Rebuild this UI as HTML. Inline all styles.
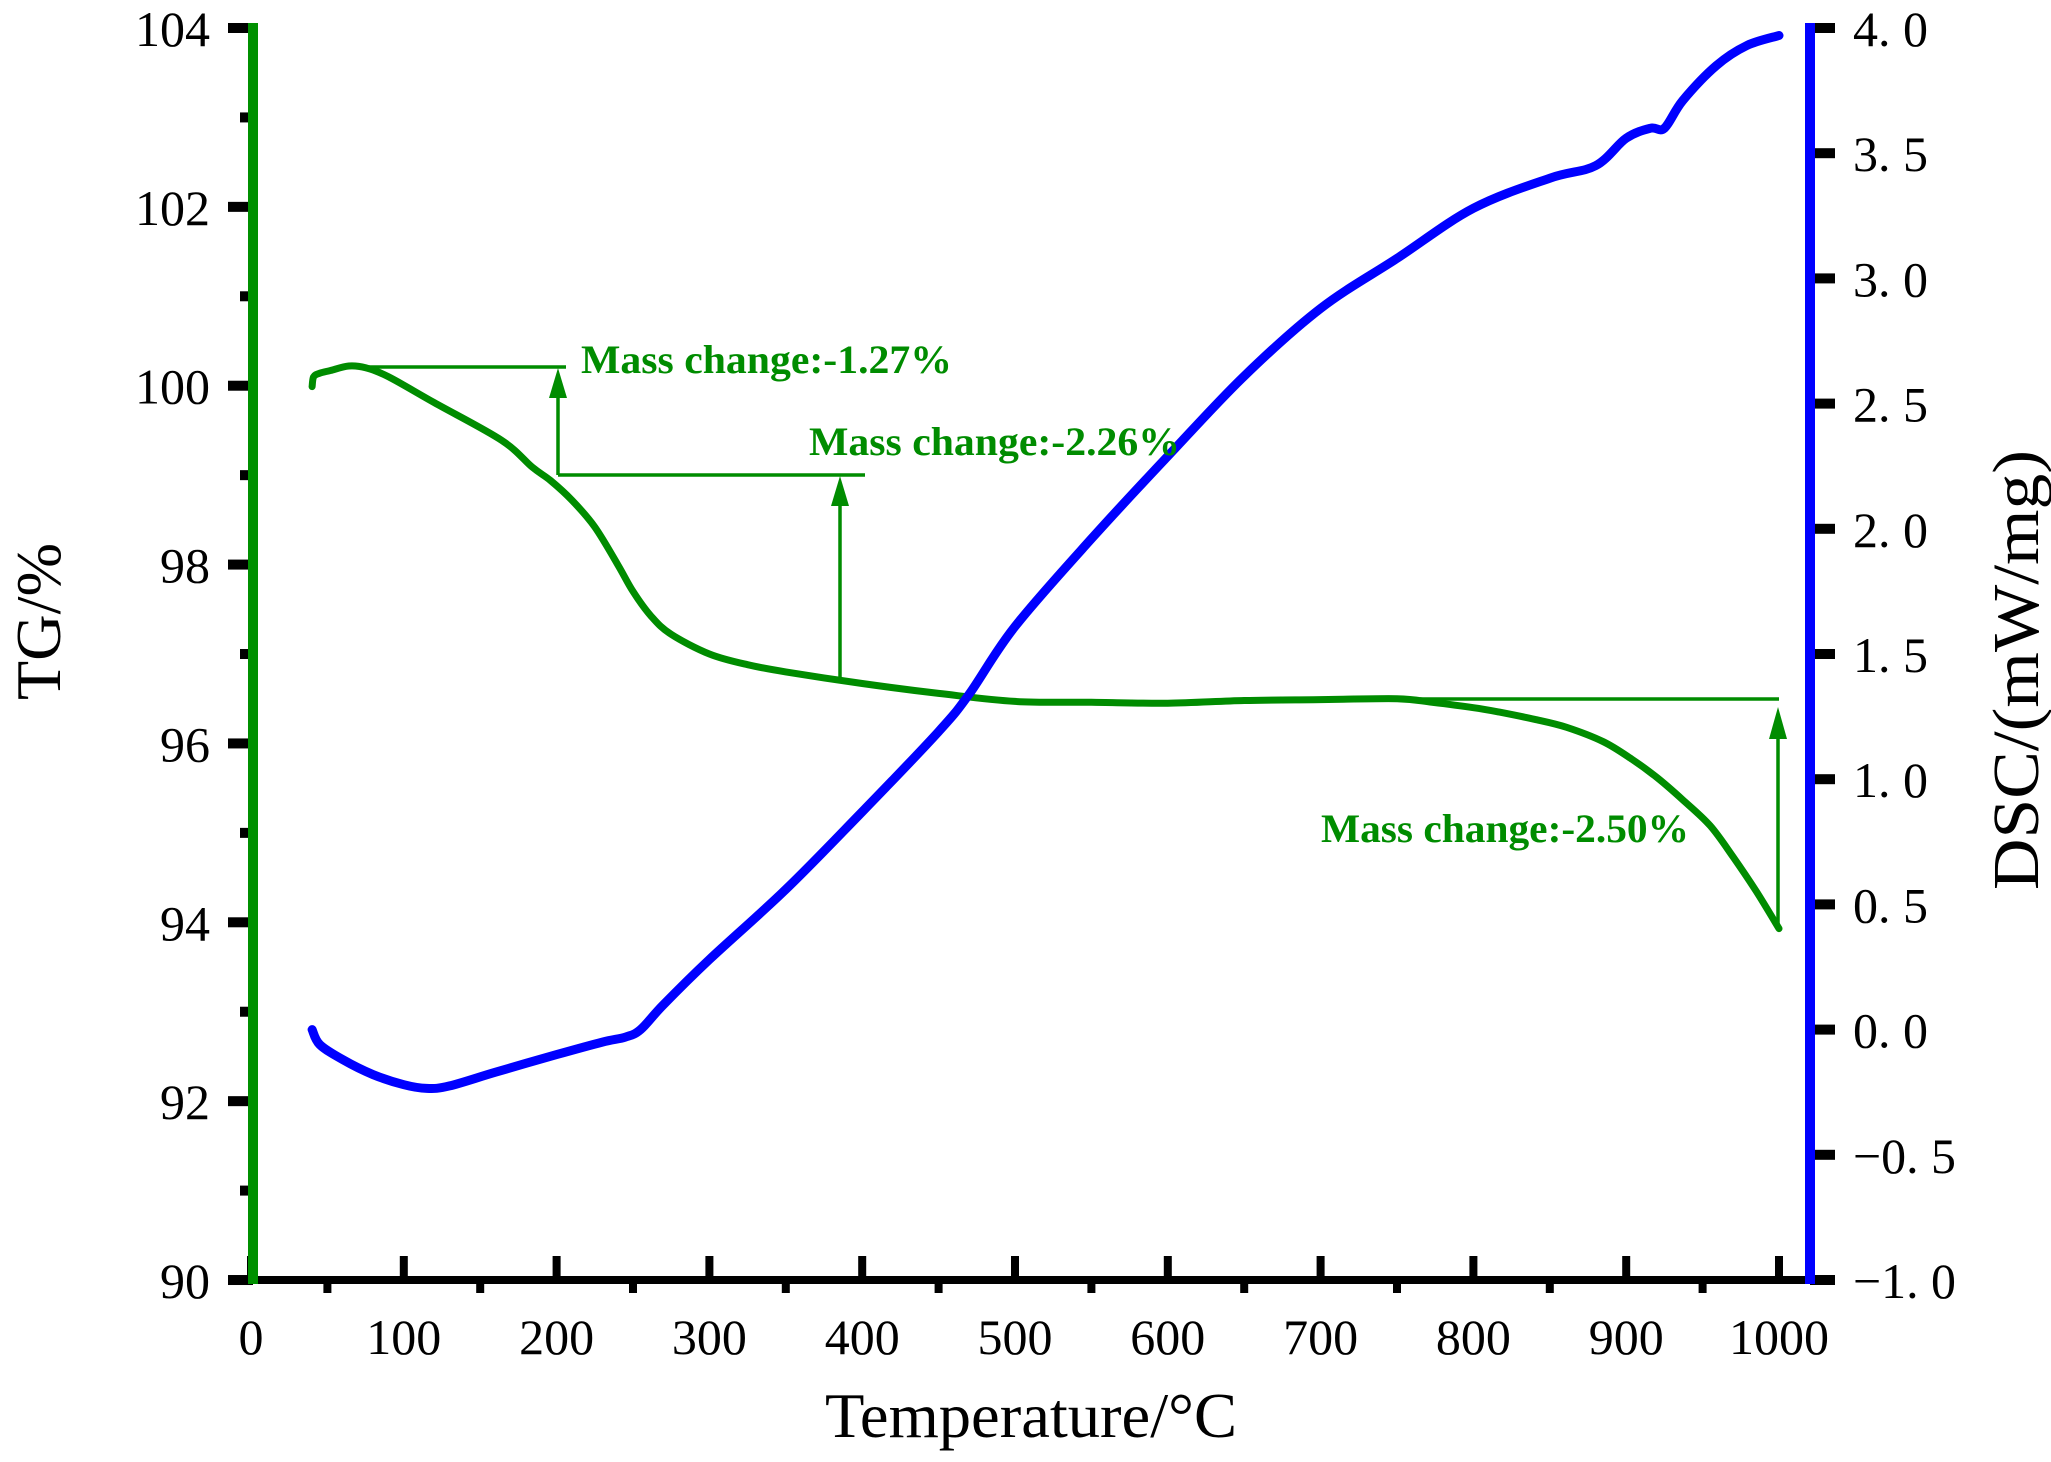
<!DOCTYPE html>
<html><head><meta charset="utf-8"><style>html,body{margin:0;padding:0;background:#fff}svg{display:block}</style></head>
<body>
<svg id="s" width="2051" height="1462" viewBox="0 0 2051 1462" xmlns="http://www.w3.org/2000/svg" font-family="Liberation Serif, serif">
<g id="ticks"></g>
<path id="tg" fill="none" stroke="#008c00" stroke-width="7" stroke-linejoin="round" stroke-linecap="round"/>
<path id="dsc" fill="none" stroke="#0000ff" stroke-width="9" stroke-linejoin="round" stroke-linecap="round"/>
<g stroke="#008c00" stroke-width="3.5" fill="none">
<line x1="354" y1="367" x2="566" y2="367"/>
<line x1="558" y1="475" x2="558" y2="395"/>
<line x1="558" y1="475" x2="865" y2="475"/>
<line x1="840" y1="680" x2="840" y2="503"/>
<line x1="1420" y1="699" x2="1779" y2="699"/>
<line x1="1778" y1="930" x2="1778" y2="735"/>
</g>
<g fill="#008c00">
<polygon points="558,368 549,398 567,398"/>
<polygon points="840,476 831,506 849,506"/>
<polygon points="1778,707 1769,739 1787,739"/>
</g>
<g fill="#008c00" font-weight="bold" font-size="40">
<text x="581" y="373" textLength="371" lengthAdjust="spacingAndGlyphs">Mass change:-1.27%</text>
<text x="809" y="455" textLength="371" lengthAdjust="spacingAndGlyphs">Mass change:-2.26%</text>
<text x="1321" y="842" textLength="368" lengthAdjust="spacingAndGlyphs">Mass change:-2.50%</text>
</g>
<rect x="228" y="1276" width="1587" height="8" fill="#000"/>
<rect x="248" y="23" width="10" height="1261" fill="#009000"/>
<rect x="1805" y="23" width="10" height="1261" fill="#0000ff"/>
<g id="labels" font-size="50" fill="#000"></g>
<text x="825" y="1437" font-size="64" textLength="412" lengthAdjust="spacingAndGlyphs">Temperature/°C</text>
<text transform="translate(60,700) rotate(-90)" font-size="64" textLength="157" lengthAdjust="spacingAndGlyphs">TG/%</text>
<text transform="translate(2038,890) rotate(-90)" font-size="66" textLength="440" lengthAdjust="spacingAndGlyphs">DSC/(mW/mg)</text>
</svg>
<script>
var X=t=>251+1.528*t, YL=v=>28+(104-v)*89.43, YR=v=>28+(4-v)*250.4;
var NS="http://www.w3.org/2000/svg";
function el(p,n,a,txt){var e=document.createElementNS(NS,n);for(var k in a)e.setAttribute(k,a[k]);if(txt!=null)e.textContent=txt;p.appendChild(e);return e;}
var tk=document.getElementById('ticks'),lb=document.getElementById('labels');
for(var t=0;t<=1000;t+=50){
 if(t%100==0){el(tk,'rect',{x:X(t)-4,y:1256,width:8,height:24,fill:'#000'});
  el(lb,'text',{x:X(t),y:1354,'text-anchor':'middle'},String(t));}
 else el(tk,'rect',{x:X(t)-4,y:1280,width:8,height:13,fill:'#000'});
}
for(var v=90;v<=104;v++){
 if(v%2==0){el(tk,'rect',{x:228,y:YL(v)-5,width:25,height:10,fill:'#000'});
  el(lb,'text',{x:210,y:YL(v)+18,'text-anchor':'end'},String(v));}
 else el(tk,'rect',{x:240,y:YL(v)-5,width:13,height:10,fill:'#000'});
}
for(var i=0;i<=10;i++){var d=4-i*0.5;
 el(tk,'rect',{x:1810,y:YR(d)-5,width:25,height:10,fill:'#000'});
 var s=d.toFixed(1).replace('.','. ');
 if(d<0){el(lb,'text',{x:1853,y:YR(d)+18,textLength:103,lengthAdjust:'spacingAndGlyphs'},'\u2212'+s.slice(1));}
 else el(lb,'text',{x:1853,y:YR(d)+18,textLength:75,lengthAdjust:'spacingAndGlyphs'},s);
}
function path(pts){var d='M'+pts[0][0].toFixed(1)+' '+pts[0][1].toFixed(1);
 for(var i=0;i<pts.length-1;i++){var p0=pts[Math.max(i-1,0)],p1=pts[i],p2=pts[i+1],p3=pts[Math.min(i+2,pts.length-1)];
  var c1=[p1[0]+(p2[0]-p0[0])/6,p1[1]+(p2[1]-p0[1])/6],c2=[p2[0]-(p3[0]-p1[0])/6,p2[1]-(p3[1]-p1[1])/6];
  d+=' C'+c1[0].toFixed(1)+' '+c1[1].toFixed(1)+' '+c2[0].toFixed(1)+' '+c2[1].toFixed(1)+' '+p2[0].toFixed(1)+' '+p2[1].toFixed(1);}
 return d;}
var tg=[[40,99.99],[41,100.1],[45,100.14],[52,100.17],[64,100.22],[75,100.2],[90,100.1],[120,99.81],[164,99.39],[184,99.09],[196,98.94],[210,98.72],[225,98.42],[240,98.0],[250,97.7],[262,97.42],[275,97.22],[300,97.0],[325,96.88],[350,96.8],[400,96.67],[450,96.56],[500,96.47],[550,96.46],[600,96.45],[650,96.48],[700,96.49],[750,96.5],[773,96.46],[800,96.4],[817,96.35],[840,96.27],[861,96.18],[885,96.02],[904,95.82],[920,95.62],[937,95.37],[955,95.08],[970,94.73],[985,94.35],[1000,93.93]];
var ds=[[40,0.0],[45,-0.06],[60,-0.12],[80,-0.18],[100,-0.22],[115,-0.235],[130,-0.225],[160,-0.17],[200,-0.1],[230,-0.05],[245,-0.03],[255,0.0],[270,0.1],[300,0.28],[350,0.56],[400,0.87],[450,1.19],[470,1.34],[500,1.61],[550,1.96],[600,2.29],[650,2.61],[700,2.88],[750,3.08],[800,3.28],[850,3.4],[880,3.45],[900,3.56],[916,3.6],[925,3.6],[937,3.71],[959,3.85],[979,3.93],[1000,3.97]];
document.getElementById('tg').setAttribute('d',path(tg.map(p=>[X(p[0]),YL(p[1])])));
document.getElementById('dsc').setAttribute('d',path(ds.map(p=>[X(p[0]),YR(p[1])])));
</script>
</body></html>
